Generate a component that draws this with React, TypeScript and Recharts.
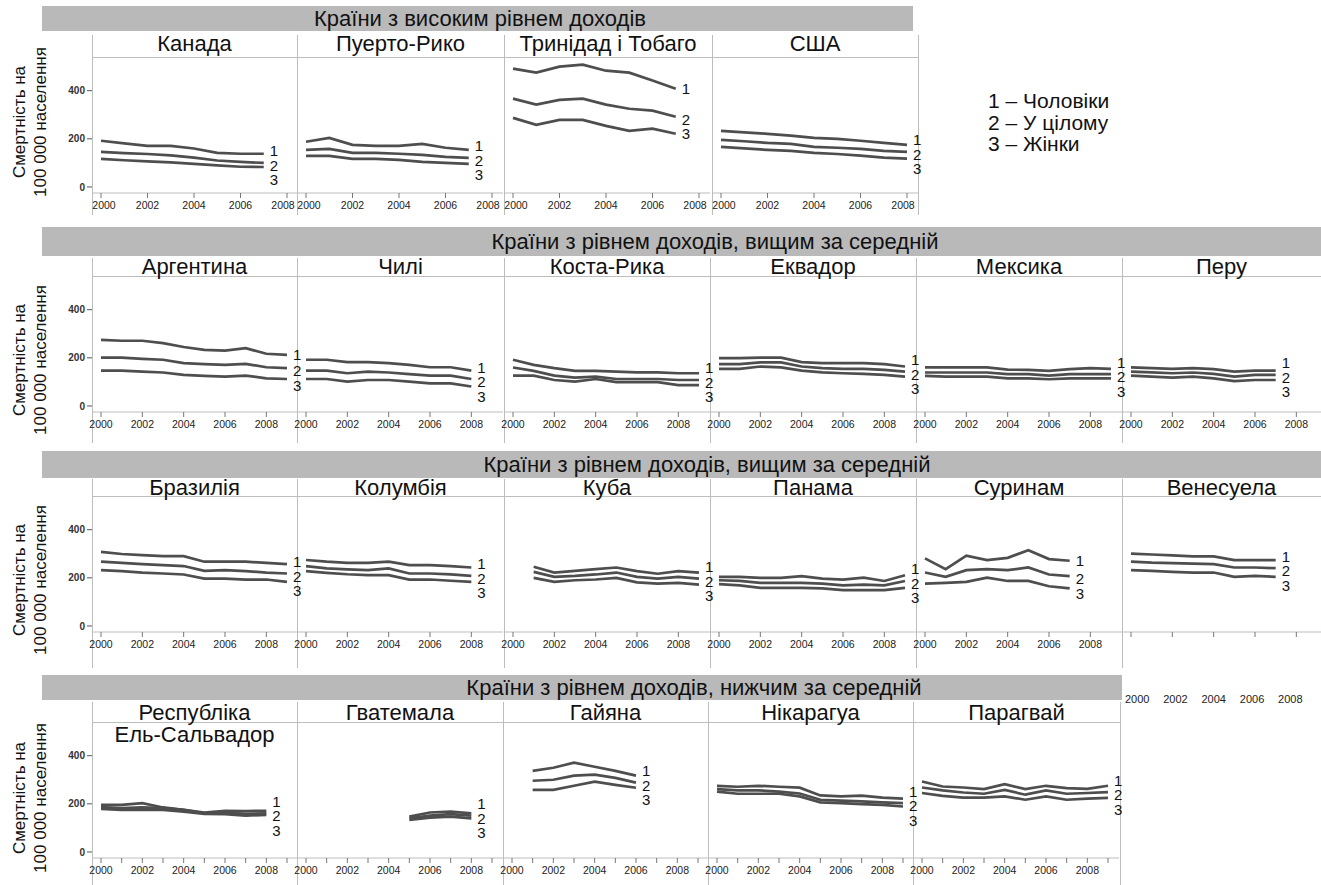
import React from 'react';
import { LineChart, Line, XAxis, YAxis } from 'recharts';

// years
const Y2000_2007 = [2000, 2001, 2002, 2003, 2004, 2005, 2006, 2007];
const Y2000_2008 = [2000, 2001, 2002, 2003, 2004, 2005, 2006, 2007, 2008];
const Y2000_2009 = [2000, 2001, 2002, 2003, 2004, 2005, 2006, 2007, 2008, 2009];
const Y2001_2009 = [2001, 2002, 2003, 2004, 2005, 2006, 2007, 2008, 2009];
const Y2001_2006 = [2001, 2002, 2003, 2004, 2005, 2006];
const Y2005_2008 = [2005, 2006, 2007, 2008];

// 1 – men, 2 – total, 3 – women (deaths per 100 000)
const CANADA_M = [192, 181, 171, 171, 160, 142, 138, 138];
const CANADA_T = [146, 141, 137, 131, 122, 110, 104, 100];
const CANADA_W = [117, 111, 106, 102, 96, 90, 84, 83];

const PUERTO_M = [188, 204, 175, 171, 171, 179, 163, 154];
const PUERTO_T = [154, 158, 142, 142, 138, 133, 125, 121];
const PUERTO_W = [129, 129, 117, 117, 113, 104, 100, 96];

const TRINIDAD_M = [492, 475, 500, 508, 483, 475, 442, 408];
const TRINIDAD_T = [367, 342, 362, 367, 342, 325, 317, 292];
const TRINIDAD_W = [287, 258, 279, 279, 254, 233, 242, 221];

const USA_M = [233, 227, 221, 213, 204, 200, 192, 183, 175];
const USA_T = [196, 190, 183, 179, 167, 163, 158, 150, 146];
const USA_W = [167, 160, 154, 150, 142, 137, 130, 122, 118];

const ARGENTINA_M = [275, 271, 271, 261, 245, 233, 230, 240, 217, 212];
const ARGENTINA_T = [201, 201, 196, 192, 178, 174, 171, 175, 161, 157];
const ARGENTINA_W = [147, 147, 143, 139, 129, 125, 122, 126, 115, 112];

const CHILE_M = [192, 192, 182, 182, 178, 171, 161, 161, 147];
const CHILE_T = [147, 147, 136, 143, 139, 132, 126, 126, 112];
const CHILE_W = [112, 112, 101, 108, 108, 101, 94, 94, 81];

const COSTA_M = [192, 171, 157, 146, 146, 143, 140, 140, 136, 136];
const COSTA_T = [160, 146, 126, 118, 122, 112, 112, 112, 108, 108];
const COSTA_W = [126, 126, 108, 101, 112, 99, 99, 99, 87, 87];

const ECUADOR_M = [199, 199, 201, 201, 182, 178, 178, 178, 174, 164];
const ECUADOR_T = [174, 174, 181, 181, 164, 157, 154, 154, 150, 143];
const ECUADOR_W = [154, 154, 164, 160, 147, 140, 136, 133, 129, 122];

const MEXICO_M = [160, 160, 160, 160, 151, 150, 146, 153, 157, 154];
const MEXICO_T = [139, 139, 139, 139, 132, 132, 126, 132, 132, 132];
const MEXICO_W = [125, 122, 122, 122, 115, 115, 111, 115, 115, 115];

const PERU_M = [160, 157, 154, 157, 153, 143, 147, 147];
const PERU_T = [143, 140, 136, 139, 133, 122, 129, 129];
const PERU_W = [126, 122, 118, 122, 115, 103, 108, 108];

const BRAZIL_M = [308, 299, 294, 290, 290, 267, 267, 267, 262, 257];
const BRAZIL_T = [267, 262, 257, 253, 249, 229, 232, 228, 222, 218];
const BRAZIL_W = [232, 228, 222, 218, 214, 197, 197, 193, 193, 183];

const COLOMBIA_M = [274, 267, 262, 262, 267, 253, 253, 249, 243];
const COLOMBIA_T = [249, 239, 235, 232, 239, 218, 218, 214, 208];
const COLOMBIA_W = [228, 221, 215, 211, 211, 193, 193, 188, 183];

const CUBA_M = [246, 222, 229, 236, 243, 228, 217, 228, 222];
const CUBA_T = [225, 204, 208, 214, 222, 204, 197, 204, 197];
const CUBA_W = [200, 183, 190, 193, 200, 181, 176, 179, 172];

const PANAMA_M = [204, 204, 200, 200, 207, 197, 193, 201, 187, 211];
const PANAMA_T = [190, 187, 179, 179, 179, 176, 169, 172, 169, 187];
const PANAMA_W = [174, 169, 158, 158, 158, 156, 149, 149, 149, 158];

const SURINAME_M = [281, 236, 292, 274, 283, 315, 278, 271];
const SURINAME_T = [222, 204, 232, 236, 232, 243, 214, 207];
const SURINAME_W = [176, 179, 183, 201, 187, 187, 165, 156];

const VENEZUELA_M = [301, 297, 293, 289, 289, 274, 274, 274];
const VENEZUELA_T = [267, 263, 261, 259, 257, 243, 243, 240];
const VENEZUELA_W = [232, 229, 225, 222, 222, 204, 208, 204];

const SALVADOR_M = [196, 196, 203, 185, 175, 164, 171, 170, 171];
const SALVADOR_T = [186, 182, 185, 182, 175, 161, 164, 158, 161];
const SALVADOR_W = [179, 175, 175, 175, 168, 158, 157, 151, 154];

const GUATEMALA_M = [147, 164, 168, 161];
const GUATEMALA_T = [140, 151, 157, 151];
const GUATEMALA_W = [133, 143, 147, 140];

const GUYANA_M = [337, 350, 371, 354, 337, 317];
const GUYANA_T = [296, 300, 317, 321, 308, 288];
const GUYANA_W = [258, 258, 275, 292, 279, 267];

const NICARAGUA_M = [275, 271, 275, 271, 267, 235, 231, 234, 226, 222];
const NICARAGUA_T = [261, 256, 256, 251, 243, 217, 213, 210, 206, 203];
const NICARAGUA_W = [251, 242, 242, 242, 231, 206, 203, 199, 196, 189];

const PARAGUAY_M = [293, 272, 268, 261, 282, 261, 275, 265, 262, 275];
const PARAGUAY_T = [268, 256, 247, 242, 258, 238, 256, 242, 245, 249];
const PARAGUAY_W = [245, 233, 226, 226, 231, 217, 231, 217, 222, 225];

const Y_TICKS = [0, 200, 400];
const EVEN_TICKS = [2000, 2002, 2004, 2006, 2008];
const ALL_TICKS = [2000, 2001, 2002, 2003, 2004, 2005, 2006, 2007, 2008, 2009];
const LOOSE_TICK_LABELS = ['2000', '2002', '2004', '2006', '2008'];

const Y_MIN = -25;
const Y_MAX = 540;
const PLOT_H = 136;
const AXIS_H = 30;
const PANEL_W = 206;
const Y_AXIS_W = 45;
const MARGIN_L = 20;
const MARGIN_R = 26;
const PX_PER_UNIT = PLOT_H / (Y_MAX - Y_MIN);
const LABEL_GAP = 14.5;
const FONT = '"Liberation Sans", Arial, Helvetica, sans-serif';
const LINE_COLOR = '#4e4e4e';
const GRID_COLOR = '#bdbdbd';

interface Panel {
  title: string;
  left: number;
  years: number[];
  m: number[];
  t: number[];
  w: number[];
  hideTickLabels?: boolean;
}

interface Row {
  header: string;
  barTop: number;
  barH: number;
  barRight: number;
  headerCenter: number;
  titleCenter: number;
  plotTop: number;
  yLabelCenter: number;
  vTop: number;
  vBottom: number;
  rightEnd: number;
  rightBorder: boolean;
  xMax: number;
  ticks: number[];
  panels: Panel[];
}

const ROWS: Row[] = [
  {
    header: 'Країни з високим рівнем доходів',
    barTop: 6, barH: 25, barRight: 913, headerCenter: 480,
    titleCenter: 44, plotTop: 57, yLabelCenter: 122, vTop: 35, vBottom: 215,
    rightEnd: 918, rightBorder: true, xMax: 2008, ticks: EVEN_TICKS,
    panels: [
      { title: 'Канада', left: 92, years: Y2000_2007, m: CANADA_M, t: CANADA_T, w: CANADA_W },
      { title: 'Пуерто-Рико', left: 297, years: Y2000_2007, m: PUERTO_M, t: PUERTO_T, w: PUERTO_W },
      { title: 'Тринідад і Тобаго', left: 504, years: Y2000_2007, m: TRINIDAD_M, t: TRINIDAD_T, w: TRINIDAD_W },
      { title: 'США', left: 712, years: Y2000_2008, m: USA_M, t: USA_T, w: USA_W },
    ],
  },
  {
    header: 'Країни з рівнем доходів, вищим за середній',
    barTop: 227, barH: 29, barRight: 1321, headerCenter: 715,
    titleCenter: 267, plotTop: 276, yLabelCenter: 360, vTop: 258, vBottom: 443,
    rightEnd: 1321, rightBorder: false, xMax: 2009, ticks: EVEN_TICKS,
    panels: [
      { title: 'Аргентина', left: 92, years: Y2000_2009, m: ARGENTINA_M, t: ARGENTINA_T, w: ARGENTINA_W },
      { title: 'Чилі', left: 297, years: Y2000_2008, m: CHILE_M, t: CHILE_T, w: CHILE_W },
      { title: 'Коста-Рика', left: 504, years: Y2000_2009, m: COSTA_M, t: COSTA_T, w: COSTA_W },
      { title: 'Еквадор', left: 710, years: Y2000_2009, m: ECUADOR_M, t: ECUADOR_T, w: ECUADOR_W },
      { title: 'Мексика', left: 916, years: Y2000_2009, m: MEXICO_M, t: MEXICO_T, w: MEXICO_W },
      { title: 'Перу', left: 1122, years: Y2000_2007, m: PERU_M, t: PERU_T, w: PERU_W },
    ],
  },
  {
    header: 'Країни з рівнем доходів, вищим за середній',
    barTop: 451, barH: 27, barRight: 1321, headerCenter: 707,
    titleCenter: 488, plotTop: 496, yLabelCenter: 580, vTop: 479, vBottom: 668,
    rightEnd: 1321, rightBorder: false, xMax: 2009, ticks: EVEN_TICKS,
    panels: [
      { title: 'Бразилія', left: 92, years: Y2000_2009, m: BRAZIL_M, t: BRAZIL_T, w: BRAZIL_W },
      { title: 'Колумбія', left: 297, years: Y2000_2008, m: COLOMBIA_M, t: COLOMBIA_T, w: COLOMBIA_W },
      { title: 'Куба', left: 504, years: Y2001_2009, m: CUBA_M, t: CUBA_T, w: CUBA_W },
      { title: 'Панама', left: 710, years: Y2000_2009, m: PANAMA_M, t: PANAMA_T, w: PANAMA_W },
      { title: 'Суринам', left: 916, years: Y2000_2007, m: SURINAME_M, t: SURINAME_T, w: SURINAME_W },
      { title: 'Венесуела', left: 1122, years: Y2000_2007, m: VENEZUELA_M, t: VENEZUELA_T, w: VENEZUELA_W, hideTickLabels: true },
    ],
  },
  {
    header: 'Країни з рівнем доходів, нижчим за середній',
    barTop: 675, barH: 25, barRight: 1122, headerCenter: 694,
    titleCenter: 713, plotTop: 722, yLabelCenter: 798, vTop: 702, vBottom: 885,
    rightEnd: 1120, rightBorder: true, xMax: 2009, ticks: ALL_TICKS,
    panels: [
      { title: 'Республіка\nЕль-Сальвадор', left: 92, years: Y2000_2008, m: SALVADOR_M, t: SALVADOR_T, w: SALVADOR_W },
      { title: 'Гватемала', left: 297, years: Y2005_2008, m: GUATEMALA_M, t: GUATEMALA_T, w: GUATEMALA_W },
      { title: 'Гайяна', left: 503, years: Y2001_2006, m: GUYANA_M, t: GUYANA_T, w: GUYANA_W },
      { title: 'Нікарагуа', left: 708, years: Y2000_2009, m: NICARAGUA_M, t: NICARAGUA_T, w: NICARAGUA_W },
      { title: 'Парагвай', left: 913, years: Y2000_2009, m: PARAGUAY_M, t: PARAGUAY_T, w: PARAGUAY_W },
    ],
  },
];

type Key = 'm' | 't' | 'w';
const KEY_NUM: Record<Key, string> = { m: '1', t: '2', w: '3' };

// numbers 1/2/3 at the end of each line, pushed apart when the lines are close
const endLabel = (key: Key, p: Panel) => (props: any) => {
  const { x, y, index } = props;
  const last = p.years.length - 1;
  if (index !== last || x == null || y == null) return null;
  const y1 = -p.m[last] * PX_PER_UNIT;
  const y2 = -p.t[last] * PX_PER_UNIT;
  const y3 = -p.w[last] * PX_PER_UNIT;
  const l2 = y2 + 3;
  const l1 = Math.min(y1, l2 - LABEL_GAP);
  const l3 = Math.max(y3, l2 + LABEL_GAP);
  const self = key === 'm' ? y1 : key === 't' ? y2 : y3;
  const lab = key === 'm' ? l1 : key === 't' ? l2 : l3;
  return (
    <text
      key={`lbl-${key}`}
      x={x + 6}
      y={y + (lab - self)}
      dy={5}
      fontSize={15}
      fontFamily={FONT}
      fill="#111"
    >
      {KEY_NUM[key]}
    </text>
  );
};

// year tick labels; in the top row the outer labels are nudged inwards so neighbours don't collide
const yearTick = (p: Panel, row: Row) => (props: any) => {
  const { x, y, payload } = props;
  const v = payload?.value as number;
  if (p.hideTickLabels || v % 2 !== 0) return <g />;
  let dx = 0;
  if (row.xMax === 2008) {
    if (v === 2000) dx = 3;
    if (v === 2008) dx = -4;
  }
  return (
    <text x={x + dx} y={y} dy="0.71em" textAnchor="middle" fontSize={10.5} fontFamily={FONT} fill="#222">
      {v}
    </text>
  );
};

function PanelChart({ p, row, first }: { p: Panel; row: Row; first: boolean }) {
  const data = p.years.map((year, i) => ({ year, m: p.m[i], t: p.t[i], w: p.w[i] }));
  const leftSpace = first ? Y_AXIS_W : MARGIN_L;
  const width = leftSpace + PANEL_W + MARGIN_R;
  return (
    <div style={{ position: 'absolute', left: p.left - leftSpace, top: row.plotTop, width }}>
      <LineChart
        width={width}
        height={PLOT_H + AXIS_H}
        data={data}
        margin={{ top: 0, right: MARGIN_R, bottom: 0, left: first ? 0 : MARGIN_L }}
      >
        <XAxis
          dataKey="year"
          type="number"
          domain={[2000, row.xMax]}
          ticks={row.ticks}
          interval={0}
          padding={{ left: 9, right: 11 }}
          height={AXIS_H}
          tickSize={5}
          tickMargin={4}
          axisLine={{ stroke: GRID_COLOR }}
          tickLine={{ stroke: '#777' }}
          tick={yearTick(p, row)}
        />
        <YAxis
          type="number"
          domain={[Y_MIN, Y_MAX]}
          ticks={Y_TICKS}
          hide={!first}
          width={first ? Y_AXIS_W : 0}
          axisLine={false}
          tickSize={5}
          tickLine={{ stroke: '#555' }}
          tick={{ fontSize: 10, fontWeight: 700, fill: '#333', fontFamily: FONT }}
        />
        {(['m', 't', 'w'] as Key[]).map((k) => (
          <Line
            key={k}
            dataKey={k}
            type="linear"
            stroke={LINE_COLOR}
            strokeWidth={2.7}
            dot={false}
            activeDot={false}
            isAnimationActive={false}
            label={endLabel(k, p)}
          />
        ))}
      </LineChart>
    </div>
  );
}

function RowBlock({ row }: { row: Row }) {
  const lefts = row.panels.map((p) => p.left);
  const borders = row.rightBorder ? [...lefts, row.rightEnd] : lefts;
  return (
    <>
      <div
        style={{
          position: 'absolute',
          left: 42,
          top: row.barTop,
          width: row.barRight - 42,
          height: row.barH,
          background: '#b9b9b9',
        }}
      />
      <div
        style={{
          position: 'absolute',
          left: row.headerCenter - 400,
          width: 800,
          top: row.barTop,
          lineHeight: `${row.barH}px`,
          textAlign: 'center',
          fontSize: 22,
          color: '#111',
        }}
      >
        {row.header}
      </div>
      <div
        style={{
          position: 'absolute',
          left: 30 - 95,
          top: row.yLabelCenter - 21,
          width: 190,
          height: 42,
          transform: 'rotate(-90deg)',
          textAlign: 'center',
          fontSize: 17,
          lineHeight: '21px',
          color: '#111',
          whiteSpace: 'nowrap',
        }}
      >
        Смертність на
        <br />
        100 000 населення
      </div>
      {borders.map((x, i) => (
        <div
          key={`v${i}`}
          style={{
            position: 'absolute',
            left: x,
            top: row.vTop,
            width: 1,
            height: row.vBottom - row.vTop,
            background: GRID_COLOR,
          }}
        />
      ))}
      <div
        style={{
          position: 'absolute',
          left: lefts[0],
          top: row.plotTop,
          width: row.rightEnd - lefts[0],
          height: 1,
          background: GRID_COLOR,
        }}
      />
      {row.panels.map((p, i) => (
        <PanelChart key={p.title} p={p} row={row} first={i === 0} />
      ))}
      {row.panels.map((p, i) => {
        const next = i + 1 < row.panels.length ? row.panels[i + 1].left : row.rightEnd;
        return (
          <div
            key={`t-${p.title}`}
            style={{
              position: 'absolute',
              left: p.left,
              width: next - p.left,
              top: row.titleCenter - 11,
              lineHeight: '22px',
              textAlign: 'center',
              fontSize: 22,
              color: '#111',
              whiteSpace: 'pre-line',
              zIndex: 2,
            }}
          >
            {p.title}
          </div>
        );
      })}
    </>
  );
}

export default function App() {
  return (
    <div
      style={{
        position: 'absolute',
        left: 0,
        top: 0,
        width: 1321,
        height: 885,
        overflow: 'hidden',
        background: '#fff',
        fontFamily: FONT,
      }}
    >
      {ROWS.map((row, i) => (
        <RowBlock key={i} row={row} />
      ))}
      <div
        style={{
          position: 'absolute',
          left: 988,
          top: 90,
          fontSize: 21,
          lineHeight: '21.5px',
          color: '#111',
        }}
      >
        <div>1 – Чоловіки</div>
        <div>2 – У цілому</div>
        <div>3 – Жінки</div>
      </div>
      <div style={{ position: 'absolute', left: 1118, top: 693, display: 'flex', fontSize: 11, color: '#222' }}>
        {LOOSE_TICK_LABELS.map((s) => (
          <span key={s} style={{ width: 38.3, textAlign: 'center' }}>
            {s}
          </span>
        ))}
      </div>
    </div>
  );
}
